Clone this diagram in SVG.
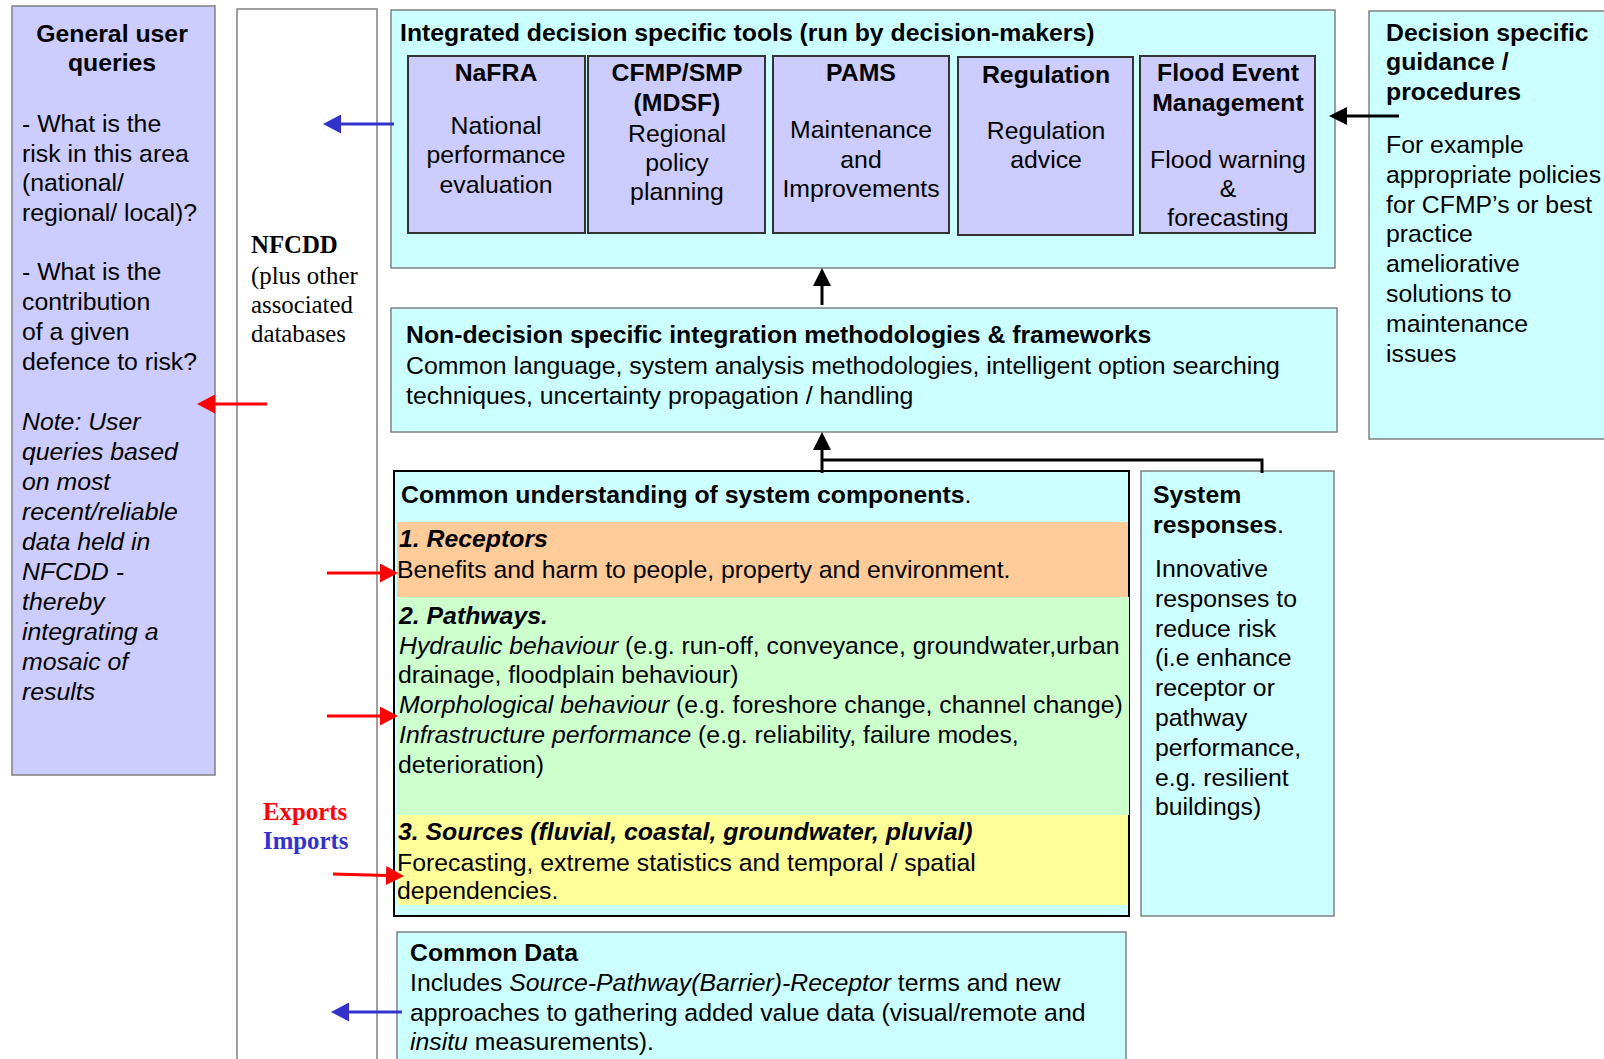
<svg xmlns="http://www.w3.org/2000/svg" width="1604" height="1059" viewBox="0 0 1604 1059">
  <style>
    text { font-family: "Liberation Sans", Arial, sans-serif; font-size: 24.8px; fill: #000; }
    .b { font-weight: bold; }
    .i { font-style: italic; }
    .bi { font-weight: bold; font-style: italic; }
    .serif { font-family: "Liberation Serif", "Times New Roman", serif; }
    .mid { text-anchor: middle; }
    .panel { fill: #ccffff; stroke: #808080; stroke-width: 1.5; }
    .tool { fill: #ccccff; stroke: #333; stroke-width: 2; }
    .wire { fill: none; stroke-width: 3; }
    .red { stroke: #ff0000; }
    .blue { stroke: #3333cc; }
    .black { stroke: #000; }
  </style>
  <defs>
    <marker id="headRed" markerUnits="userSpaceOnUse" markerWidth="18" markerHeight="19" viewBox="0 0 18 19" refX="10" refY="9.5" orient="auto">
      <path d="M0,0 L18,9.5 L0,19 z" fill="#ff0000"/>
    </marker>
    <marker id="headBlue" markerUnits="userSpaceOnUse" markerWidth="18" markerHeight="19" viewBox="0 0 18 19" refX="10" refY="9.5" orient="auto">
      <path d="M0,0 L18,9.5 L0,19 z" fill="#3333cc"/>
    </marker>
    <marker id="headBlack" markerUnits="userSpaceOnUse" markerWidth="18" markerHeight="18" viewBox="0 0 18 18" refX="10" refY="9" orient="auto">
      <path d="M0,0 L18,9 L0,18 z" fill="#000"/>
    </marker>
  </defs>

  <rect width="1604" height="1059" fill="#fff"/>

  <!-- left column: user queries -->
  <g id="user-queries">
    <rect x="12" y="6" width="203" height="769" fill="#ccccff" stroke="#808080" stroke-width="1.5"/>
    <text class="b mid" x="112" y="42">General user</text>
    <text class="b mid" x="112" y="71">queries</text>
    <text x="22" y="132">- What is the</text>
    <text x="22" y="162">risk in this area</text>
    <text x="22" y="191">(national/</text>
    <text x="22" y="221">regional/ local)?</text>
    <text x="22" y="280">- What is the</text>
    <text x="22" y="310">contribution</text>
    <text x="22" y="340">of a given</text>
    <text x="22" y="370">defence to risk?</text>
    <text class="i" x="22" y="430">Note: User</text>
    <text class="i" x="22" y="460">queries based</text>
    <text class="i" x="22" y="490">on most</text>
    <text class="i" x="22" y="520">recent/reliable</text>
    <text class="i" x="22" y="550">data held in</text>
    <text class="i" x="22" y="580">NFCDD -</text>
    <text class="i" x="22" y="610">thereby</text>
    <text class="i" x="22" y="640">integrating a</text>
    <text class="i" x="22" y="670">mosaic of</text>
    <text class="i" x="22" y="700">results</text>
  </g>

  <!-- database column -->
  <g id="nfcdd">
    <rect x="237" y="9" width="140" height="1070" fill="#fff" stroke="#808080" stroke-width="1.5"/>
    <text class="serif b" x="251" y="253">NFCDD</text>
    <text class="serif" x="251" y="284">(plus other</text>
    <text class="serif" x="251" y="313">associated</text>
    <text class="serif" x="251" y="342">databases</text>
    <text class="serif b" x="263" y="820" style="fill:#ff0000">Exports</text>
    <text class="serif b" x="263" y="849" style="fill:#3333cc">Imports</text>
  </g>

  <!-- decision specific tools -->
  <g id="decision-tools">
    <rect class="panel" x="391" y="10" width="944" height="258"/>
    <text class="b" x="400" y="41">Integrated decision specific tools (run by decision-makers)</text>
  </g>
  <g id="tool-nafra">
    <rect class="tool" x="408" y="56" width="177" height="177"/>
    <text class="b mid" x="496" y="81">NaFRA</text>
    <text class="mid" x="496" y="134">National</text>
    <text class="mid" x="496" y="163">performance</text>
    <text class="mid" x="496" y="193">evaluation</text>
  </g>
  <g id="tool-cfmp">
    <rect class="tool" x="588" y="56" width="177" height="177"/>
    <text class="b mid" x="677" y="81">CFMP/SMP</text>
    <text class="b mid" x="677" y="111">(MDSF)</text>
    <text class="mid" x="677" y="142">Regional</text>
    <text class="mid" x="677" y="171">policy</text>
    <text class="mid" x="677" y="200">planning</text>
  </g>
  <g id="tool-pams">
    <rect class="tool" x="773" y="56" width="176" height="177"/>
    <text class="b mid" x="861" y="81">PAMS</text>
    <text class="mid" x="861" y="138">Maintenance</text>
    <text class="mid" x="861" y="168">and</text>
    <text class="mid" x="861" y="197">Improvements</text>
  </g>
  <g id="tool-regulation">
    <rect class="tool" x="958" y="57" width="175" height="178"/>
    <text class="b mid" x="1046" y="83">Regulation</text>
    <text class="mid" x="1046" y="139">Regulation</text>
    <text class="mid" x="1046" y="168">advice</text>
  </g>
  <g id="tool-flood-event">
    <rect class="tool" x="1140" y="56" width="175" height="177"/>
    <text class="b mid" x="1228" y="81">Flood Event</text>
    <text class="b mid" x="1228" y="111">Management</text>
    <text class="mid" x="1228" y="168">Flood warning</text>
    <text class="mid" x="1228" y="197">&amp;</text>
    <text class="mid" x="1228" y="226">forecasting</text>
  </g>

  <!-- guidance -->
  <g id="guidance">
    <rect class="panel" x="1369" y="11" width="260" height="428"/>
    <text class="b" x="1386" y="41">Decision specific</text>
    <text class="b" x="1386" y="70">guidance /</text>
    <text class="b" x="1386" y="100">procedures</text>
    <text x="1386" y="153">For example</text>
    <text x="1386" y="183">appropriate policies</text>
    <text x="1386" y="213">for CFMP’s or best</text>
    <text x="1386" y="242">practice</text>
    <text x="1386" y="272">ameliorative</text>
    <text x="1386" y="302">solutions to</text>
    <text x="1386" y="332">maintenance</text>
    <text x="1386" y="362">issues</text>
  </g>

  <!-- integration methodologies -->
  <g id="integration">
    <rect class="panel" x="391" y="308" width="946" height="124"/>
    <text class="b" x="406" y="343">Non-decision specific integration methodologies &amp; frameworks</text>
    <text x="406" y="374">Common language, system analysis methodologies, intelligent option searching</text>
    <text x="406" y="404">techniques, uncertainty propagation / handling</text>
  </g>

  <!-- system components -->
  <g id="components">
    <rect x="394" y="471" width="735" height="445" fill="#ccffff" stroke="#000" stroke-width="2"/>
    <text x="401" y="503"><tspan class="b">Common understanding of system components</tspan>.</text>
    <rect x="397" y="522" width="731" height="75" fill="#ffcc99"/>
    <rect x="397" y="597" width="732" height="218" fill="#ccffcc"/>
    <rect x="397" y="815" width="731" height="90" fill="#ffff99"/>
    <text class="bi" x="399" y="547">1. Receptors</text>
    <text x="397" y="578">Benefits and harm to people, property and environment.</text>
    <text class="bi" x="399" y="624">2. Pathways.</text>
    <text x="399" y="654"><tspan class="i">Hydraulic behaviour</tspan> (e.g. run-off, conveyance, groundwater,urban</text>
    <text x="398" y="683">drainage, floodplain behaviour)</text>
    <text x="399" y="713"><tspan class="i">Morphological behaviour</tspan> (e.g. foreshore change, channel change)</text>
    <text x="399" y="743"><tspan class="i">Infrastructure performance</tspan> (e.g. reliability, failure modes,</text>
    <text x="398" y="773">deterioration)</text>
    <text class="bi" x="398" y="840">3. Sources (fluvial, coastal, groundwater, pluvial)</text>
    <text x="397" y="871">Forecasting, extreme statistics and temporal / spatial</text>
    <text x="397" y="899">dependencies.</text>
  </g>

  <!-- system responses -->
  <g id="responses">
    <rect class="panel" x="1141" y="471" width="193" height="445"/>
    <text x="1153" y="503"><tspan class="b">System</tspan></text>
    <text x="1153" y="533"><tspan class="b">responses</tspan>.</text>
    <text x="1155" y="577">Innovative</text>
    <text x="1155" y="607">responses to</text>
    <text x="1155" y="637">reduce risk</text>
    <text x="1155" y="666">(i.e enhance</text>
    <text x="1155" y="696">receptor or</text>
    <text x="1155" y="726">pathway</text>
    <text x="1155" y="756">performance,</text>
    <text x="1155" y="786">e.g. resilient</text>
    <text x="1155" y="815">buildings)</text>
  </g>

  <!-- common data -->
  <g id="common-data">
    <rect class="panel" x="397" y="932" width="729" height="140"/>
    <text class="b" x="410" y="961">Common Data</text>
    <text x="410" y="991">Includes <tspan class="i">Source-Pathway(Barrier)-Receptor</tspan> terms and new</text>
    <text x="410" y="1021">approaches to gathering added value data (visual/remote and</text>
    <text x="410" y="1050"><tspan class="i">insitu</tspan> measurements).</text>
  </g>

  <!-- connectors -->
  <g id="connectors">
    <line class="wire blue" x1="394" y1="124" x2="331" y2="124" marker-end="url(#headBlue)"/>
    <line class="wire red" x1="267" y1="404" x2="205" y2="404" marker-end="url(#headRed)"/>
    <line class="wire red" x1="327" y1="573" x2="390" y2="573" marker-end="url(#headRed)"/>
    <line class="wire red" x1="327" y1="716" x2="390" y2="716" marker-end="url(#headRed)"/>
    <line class="wire red" x1="333" y1="874" x2="396" y2="875.8" marker-end="url(#headRed)"/>
    <line class="wire blue" x1="402" y1="1012" x2="339" y2="1012" marker-end="url(#headBlue)"/>
    <line class="wire black" x1="1399" y1="116" x2="1337" y2="116" marker-end="url(#headBlack)"/>
    <line class="wire black" x1="822" y1="305" x2="822" y2="276" marker-end="url(#headBlack)"/>
    <line class="wire black" x1="822" y1="473" x2="822" y2="440" marker-end="url(#headBlack)"/>
    <polyline class="wire black" points="822,460 1262,460 1262,473"/>
  </g>
</svg>
